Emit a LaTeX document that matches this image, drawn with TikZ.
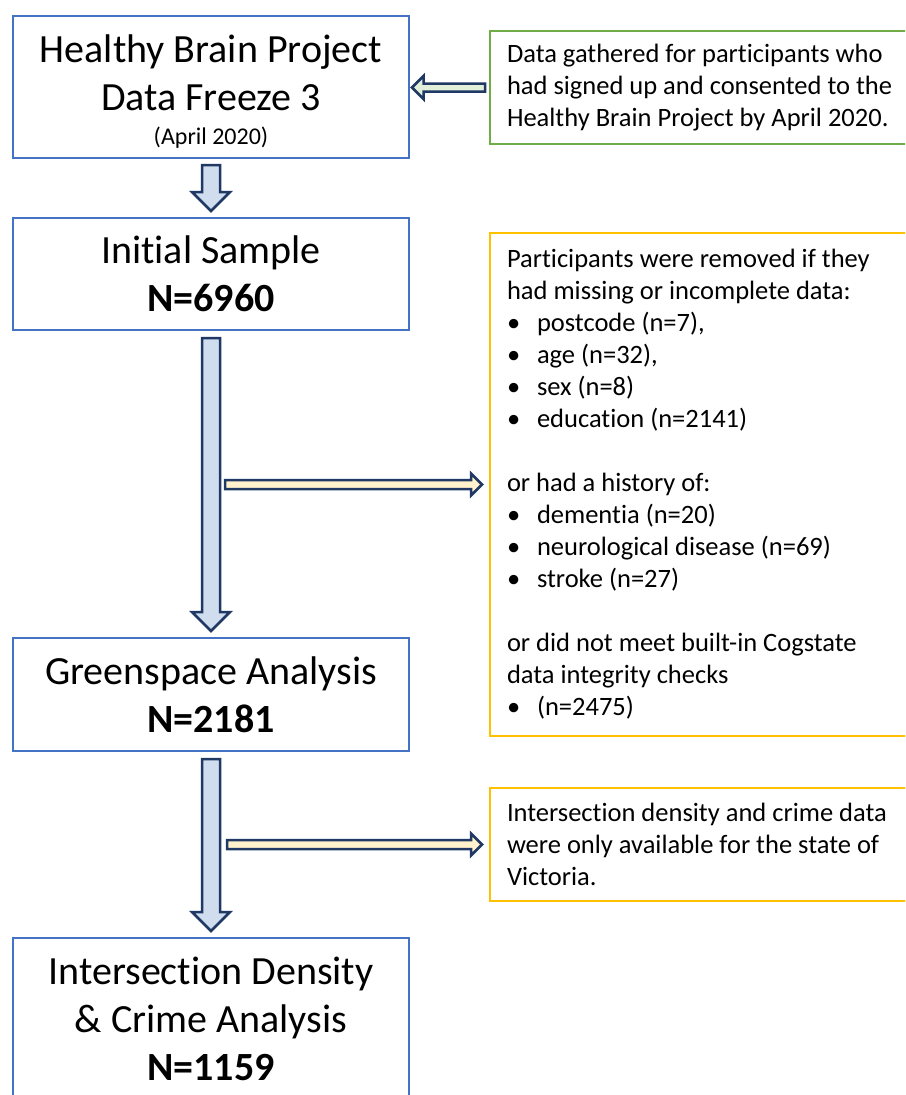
\documentclass[tikz,border=0pt]{standalone}
\usepackage{fontspec}
\setmainfont[Ligatures=NoCommon]{Carlito}
\usepackage{xcolor}
\usetikzlibrary{calc,positioning}

\definecolor{boxblue}{RGB}{68,114,196}
\definecolor{notegreen}{RGB}{112,173,71}
\definecolor{noteyellow}{RGB}{255,192,0}
\definecolor{arrowedge}{RGB}{32,56,100}
\definecolor{arrowblue}{RGB}{208,221,239}
\definecolor{arrowgreen}{RGB}{226,240,217}
\definecolor{arrowyellow}{RGB}{255,242,204}

\newcommand{\hbpbullet}{\makebox[30pt][l]{\textbullet}}
% block arrow: style, tail, tip, half shaft, half head
\newcommand{\blockarrow}[5]{%
  \coordinate (ba-base) at ($(#3)!#5!(#2)$);
  \draw[#1] ($(#2)!#4!90:(#3)$) -- ($(ba-base)!#4!90:(#3)$)
    -- ($(ba-base)!#5!90:(#3)$) -- (#3) -- ($(ba-base)!#5!-90:(#3)$)
    -- ($(ba-base)!#4!-90:(#3)$) -- ($(#2)!#4!-90:(#3)$) -- cycle;}

\begin{document}
\begin{tikzpicture}[x=1pt, y=-1pt,
    stage/.style={draw=boxblue, line width=2pt, align=flush center, text width=380pt, minimum width=396pt, inner sep=0pt, font=\fontsize{40}{48}\selectfont, execute at begin node={\spaceskip=0pt\xspaceskip=0pt}},
    note/.style={line width=2pt, align=left, text width=400pt, inner xsep=17pt, inner ysep=0pt, font=\fontsize{26.5}{32}\selectfont, execute at begin node={\spaceskip=0pt\xspaceskip=0pt}},
    flow/.style={draw=arrowedge, line width=2.5pt, line join=miter}
  ]
    \clip (0,0) rectangle (905,1095);
    \node[stage, anchor=north west, minimum height=142pt] (hbp) at (12,15) {\rule{0pt}{36pt}Healthy Brain Project\\Data Freeze 3\\[-14pt]{\fontsize{24}{28}\selectfont (April 2020)}};
    \node[stage, anchor=north west, minimum height=112pt] (init) at (12,217) {Initial Sample\\\textbf{N=6960}};
    \node[stage, anchor=north west, minimum height=113pt] (green) at (12,637) {Greenspace Analysis\\\textbf{N=2181}};
    \node[stage, anchor=north west, minimum height=161pt] (inter) at (12,937) {Intersection Density\\\& Crime Analysis\\\textbf{N=1159}};

    \node[note, draw=notegreen, anchor=north west, minimum height=113pt] (gather) at (489,30) {Data gathered for participants who\\had signed up and consented to the\\Healthy Brain Project by April 2020.};
    \node[note, draw=noteyellow, anchor=north west, minimum height=503pt] (excl) at (489,232) {Participants were removed if they\\had missing or incomplete data:\\
      \hbpbullet postcode (n=7),\\\hbpbullet age (n=32),\\\hbpbullet sex (n=8)\\\hbpbullet education (n=2141)\\[32pt]
      or had a history of:\\\hbpbullet dementia (n=20)\\\hbpbullet neurological disease (n=69)\\\hbpbullet stroke (n=27)\\[32pt]
      or did not meet built-in Cogstate\\data integrity checks\\\hbpbullet (n=2475)};
    \node[note, draw=noteyellow, anchor=north west, minimum height=113pt] (excl2) at (489,787) {Intersection density and crime data\\were only available for the state of\\Victoria.};

    % arrow ends
    \coordinate (a1t) at ($(hbp.south)+(0,6)$);
    \coordinate (a1h) at ($(init.north)+(0,-6)$);
    \coordinate (a2t) at ($(init.south)+(0,7)$);
    \coordinate (a2h) at ($(green.north)+(0,-6)$);
    \coordinate (a3t) at ($(green.south)+(0,7)$);
    \coordinate (a3h) at ($(inter.north)+(0,-6)$);
    \coordinate (r1t) at ($(excl.west -| init.south)+(14,0)$);
    \coordinate (r1h) at ($(excl.west)+(-7,0)$);
    \coordinate (r2t) at ($(excl2.west -| green.south)+(16,0)$);
    \coordinate (r2h) at ($(excl2.west)+(-7,0)$);
    \coordinate (l1t) at ($(gather.west)+(-4,0)$);
    \coordinate (l1h) at ($(gather.west -| hbp.east)+(2,0)$);

    \blockarrow{flow, fill=arrowblue}{a1t}{a1h}{9pt}{19pt}
    \blockarrow{flow, fill=arrowblue}{a2t}{a2h}{9pt}{19pt}
    \blockarrow{flow, fill=arrowblue}{a3t}{a3h}{9pt}{19pt}
    \blockarrow{flow, fill=arrowyellow}{r1t}{r1h}{4.5pt}{11pt}
    \blockarrow{flow, fill=arrowyellow}{r2t}{r2h}{4.5pt}{11pt}
    \blockarrow{flow, fill=arrowgreen}{l1t}{l1h}{4pt}{11.5pt}
\end{tikzpicture}
\end{document}
